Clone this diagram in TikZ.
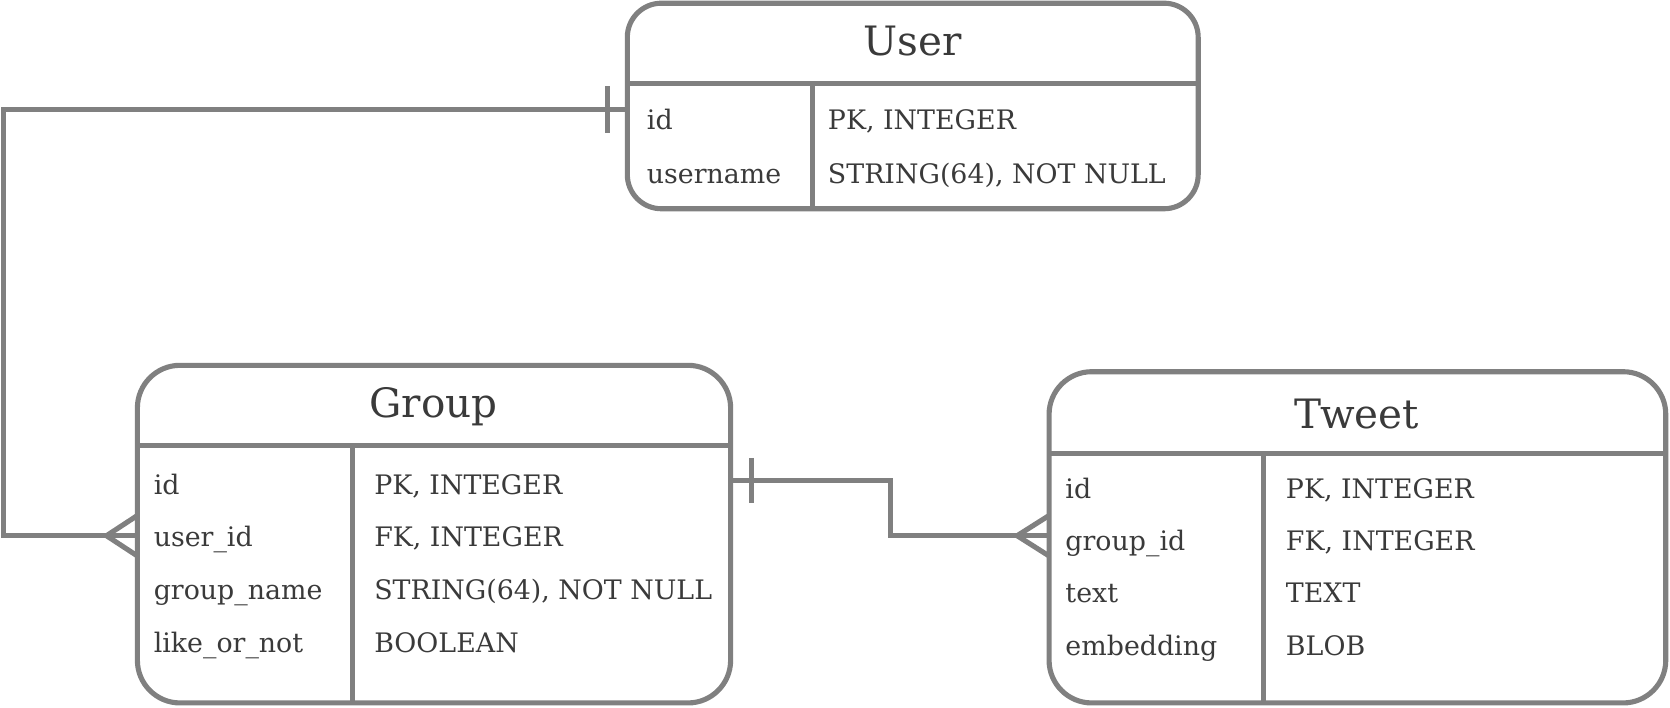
\documentclass[tikz,border=0pt]{standalone}
\usepackage{fontspec}
\setmainfont{DejaVu Serif}
\usepackage{xcolor}
\usepackage{tikz}
\usetikzlibrary{calc,positioning}

\definecolor{linegray}{HTML}{808080}
\definecolor{inkgray}{HTML}{3A3A3A}

\tikzset{
  entity/.style={draw=linegray, line width=2.4pt, rounded corners=20pt, inner sep=0pt, outer sep=0pt, anchor=north west},
  rule/.style={draw=linegray, line width=2.4pt},
  rel/.style={draw=linegray, line width=2.4pt},
  title/.style={font=\fontsize{19}{19}\selectfont, text=inkgray, anchor=base, inner sep=0pt},
  field/.style={font=\fontsize{12.6}{13}\selectfont, text=inkgray, anchor=base west, inner sep=0pt},
}

\begin{document}
\begin{tikzpicture}[x=0.5pt,y=-0.5pt]
\useasboundingbox (0,0) rectangle (1568,664);

% Tables
\node[entity, rounded corners=16pt, minimum width=268pt, minimum height=96.5pt] (user) at (589,3) {};
\node[entity, minimum width=278.5pt, minimum height=158.5pt] (group) at (129,343) {};
\node[entity, minimum width=289.5pt, minimum height=155.5pt] (tweet) at (985,349) {};

% Header and column rules
\draw[rule] (user.west |- 0,78) -- (user.east |- 0,78);
\draw[rule] (763,78) -- (763,0 |- user.south);
\draw[rule] (group.west |- 0,418) -- (group.east |- 0,418);
\draw[rule] (331,418) -- (331,0 |- group.south);
\draw[rule] (tweet.west |- 0,426) -- (tweet.east |- 0,426);
\draw[rule] (1186,426) -- (1186,0 |- tweet.south);

% Titles
\node[title] (user-title) at (857,52) {User};
\node[title] (group-title) at (407,392) {Group};
\node[title] (tweet-title) at (1274,402) {Tweet};

% Fields
\foreach \fname/\ftype [count=\i] in {id/{PK, INTEGER}, username/{STRING(64), NOT NULL}} {
  \node[field] (user-f\i) at (607,{122+(\i-1)*50}) {\fname};
  \node[field] (user-t\i) at (777,{122+(\i-1)*50}) {\ftype};
}
\foreach \fname/\ftype [count=\i] in {id/{PK, INTEGER}, user\_id/{FK, INTEGER}, group\_name/{STRING(64), NOT NULL}, like\_or\_not/BOOLEAN} {
  \node[field] (group-f\i) at (144,{464+(\i-1)*49.5}) {\fname};
  \node[field] (group-t\i) at (351,{464+(\i-1)*49.5}) {\ftype};
}
\foreach \fname/\ftype [count=\i] in {id/{PK, INTEGER}, group\_id/{FK, INTEGER}, text/TEXT, embedding/BLOB} {
  \node[field] (tweet-f\i) at (1000,{468+(\i-1)*49}) {\fname};
  \node[field] (tweet-t\i) at (1207,{468+(\i-1)*49}) {\ftype};
}

% User -- Group (one to many)
\coordinate (user-in) at (user.west |- 0,103);
\coordinate (group-in) at (group.west |- 0,503);
\draw[rel] (user-in) -- ++(-586,0) |- (group-in);
\draw[rel] ($(user-in)+(-19,-22)$) -- ($(user-in)+(-19,22)$);
\draw[rel] ($(group-in)+(0,-19)$) -- ($(group-in)+(-29,0)$) -- ($(group-in)+(0,19)$);

% Group -- Tweet (one to many)
\coordinate (group-out) at (group.east |- 0,451);
\coordinate (tweet-in) at (tweet.west |- 0,503);
\draw[rel] (group-out) -- ++(150,0) |- (tweet-in);
\draw[rel] ($(group-out)+(20,-21)$) -- ($(group-out)+(20,21)$);
\draw[rel] ($(tweet-in)+(0,-19)$) -- ($(tweet-in)+(-30,0)$) -- ($(tweet-in)+(0,19)$);
\end{tikzpicture}
\end{document}
